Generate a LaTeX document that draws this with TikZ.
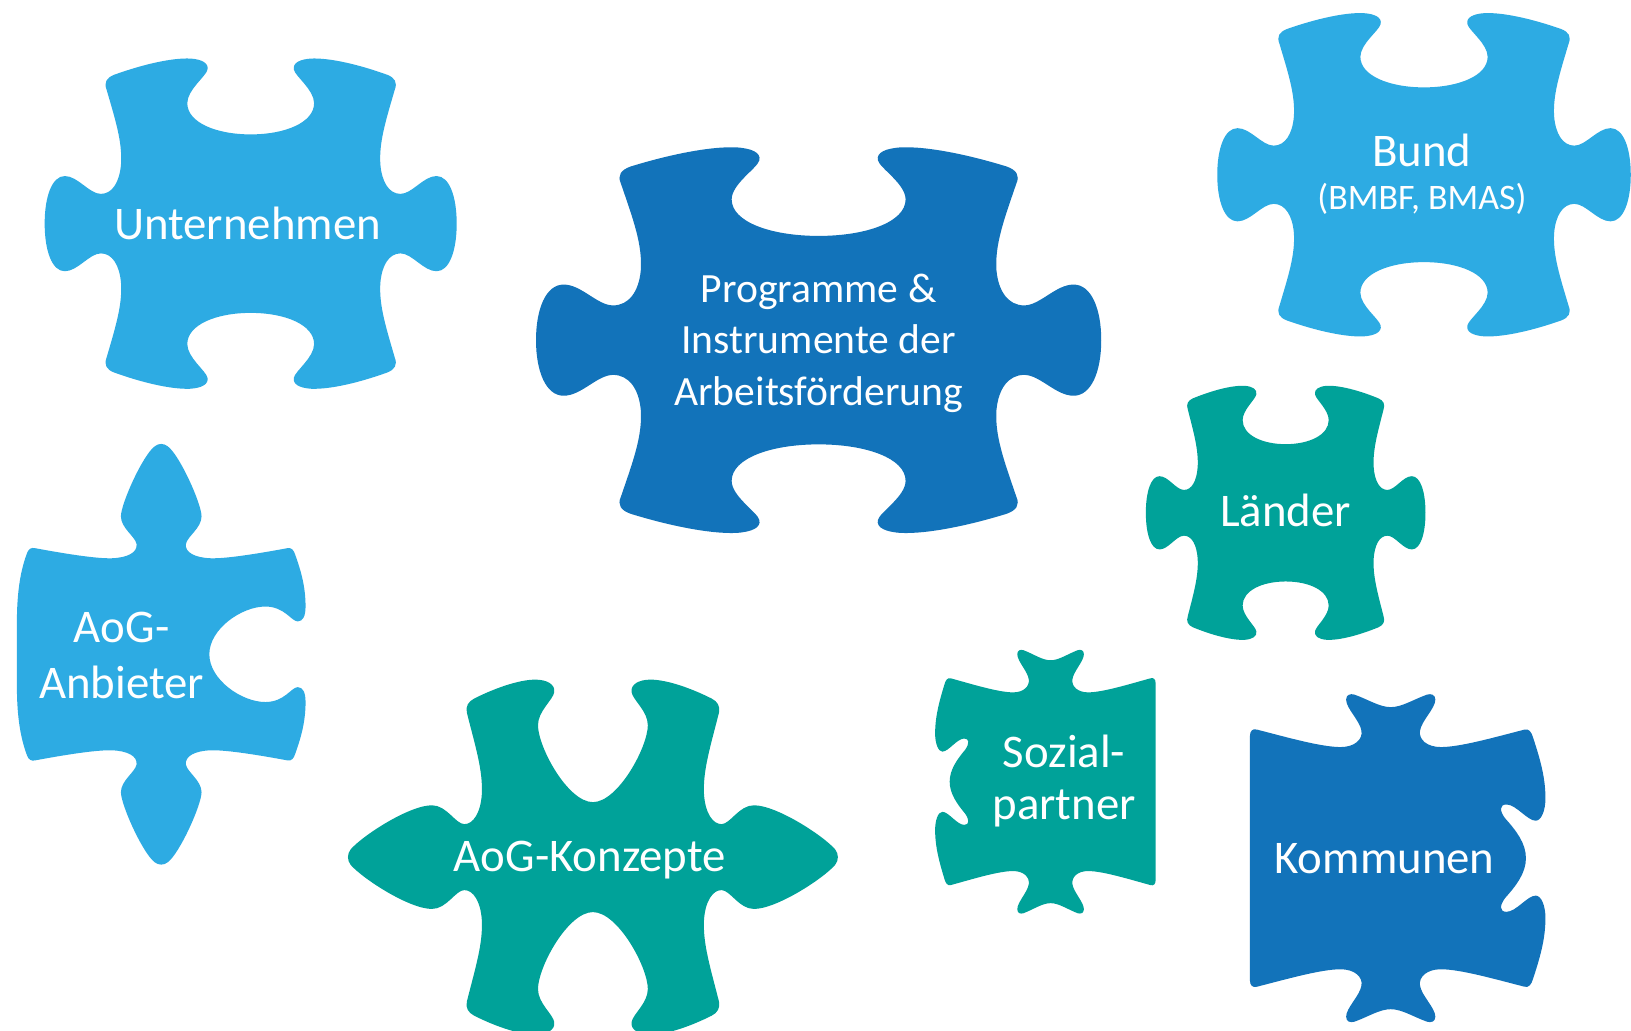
\documentclass[tikz,border=0pt]{standalone}
\usepackage{fontspec}
\setmainfont{Carlito}
\definecolor{lblue}{RGB}{45,171,227}
\definecolor{dblue}{RGB}{18,115,186}
\definecolor{teal2}{RGB}{0,162,153}
% Template A: holes top/bottom, round tabs left/right
\newcommand\pieceA[4]{\fill[#1, shift={(#2)}, xscale=#3, yscale=-#4]
(-0.95,1.0)
.. controls (-0.75,1.07) and (-0.55,1.115) .. (-0.42,1.11)
.. controls (-0.34,1.105) and (-0.29,1.08) .. (-0.30,1.035)
.. controls (-0.31,0.99) and (-0.44,0.90) .. (-0.44,0.81)
.. controls (-0.44,0.68) and (-0.24,0.60) .. (0,0.60)
.. controls (0.24,0.60) and (0.44,0.68) .. (0.44,0.81)
.. controls (0.44,0.90) and (0.31,0.99) .. (0.30,1.035)
.. controls (0.29,1.08) and (0.34,1.105) .. (0.42,1.11)
.. controls (0.55,1.115) and (0.75,1.07) .. (0.95,1.0)
.. controls (1.0,0.98) and (1.02,0.95) .. (1.0,0.90)
.. controls (0.94,0.70) and (0.89,0.55) .. (0.90,0.40)
.. controls (0.91,0.28) and (0.96,0.20) .. (1.04,0.20)
.. controls (1.12,0.20) and (1.20,0.32) .. (1.29,0.32)
.. controls (1.38,0.32) and (1.43,0.18) .. (1.43,0)
.. controls (1.43,-0.18) and (1.38,-0.32) .. (1.29,-0.32)
.. controls (1.20,-0.32) and (1.12,-0.20) .. (1.04,-0.20)
.. controls (0.96,-0.20) and (0.91,-0.28) .. (0.90,-0.40)
.. controls (0.89,-0.55) and (0.94,-0.70) .. (1.0,-0.90)
.. controls (1.02,-0.95) and (1.0,-0.98) .. (0.95,-1.0)
.. controls (0.75,-1.07) and (0.55,-1.115) .. (0.42,-1.11)
.. controls (0.34,-1.105) and (0.29,-1.08) .. (0.30,-1.035)
.. controls (0.31,-0.99) and (0.44,-0.90) .. (0.44,-0.81)
.. controls (0.44,-0.68) and (0.24,-0.60) .. (0,-0.60)
.. controls (-0.24,-0.60) and (-0.44,-0.68) .. (-0.44,-0.81)
.. controls (-0.44,-0.90) and (-0.31,-0.99) .. (-0.30,-1.035)
.. controls (-0.29,-1.08) and (-0.34,-1.105) .. (-0.42,-1.11)
.. controls (-0.55,-1.115) and (-0.75,-1.07) .. (-0.95,-1.0)
.. controls (-1.0,-0.98) and (-1.02,-0.95) .. (-1.0,-0.90)
.. controls (-0.94,-0.70) and (-0.89,-0.55) .. (-0.90,-0.40)
.. controls (-0.91,-0.28) and (-0.96,-0.20) .. (-1.04,-0.20)
.. controls (-1.12,-0.20) and (-1.20,-0.32) .. (-1.29,-0.32)
.. controls (-1.38,-0.32) and (-1.43,-0.18) .. (-1.43,0)
.. controls (-1.43,0.18) and (-1.38,0.32) .. (-1.29,0.32)
.. controls (-1.20,0.32) and (-1.12,0.20) .. (-1.04,0.20)
.. controls (-0.96,0.20) and (-0.91,0.28) .. (-0.90,0.40)
.. controls (-0.89,0.55) and (-0.94,0.70) .. (-1.0,0.90)
.. controls (-1.02,0.95) and (-1.0,0.98) .. (-0.95,1.0) -- cycle;}
% Template B: pointed tabs top/bottom, hole right, flat left
\newcommand\pieceB[4]{\fill[#1, shift={(#2)}, xscale=#3, yscale=-#4]
(-0.97,1.0)
.. controls (-0.75,0.95) and (-0.50,0.90) .. (-0.38,0.905)
.. controls (-0.26,0.91) and (-0.18,0.96) .. (-0.19,1.04)
.. controls (-0.20,1.11) and (-0.31,1.19) .. (-0.31,1.30)
.. controls (-0.31,1.42) and (-0.14,1.88) .. (-0.05,1.96)
.. controls (-0.02,1.99) and (0.02,1.99) .. (0.05,1.96)
.. controls (0.14,1.88) and (0.31,1.42) .. (0.31,1.30)
.. controls (0.31,1.19) and (0.20,1.11) .. (0.19,1.04)
.. controls (0.18,0.96) and (0.26,0.91) .. (0.38,0.905)
.. controls (0.50,0.90) and (0.75,0.95) .. (0.97,1.0)
.. controls (1.0,1.01) and (1.02,0.98) .. (1.03,0.94)
.. controls (1.07,0.80) and (1.11,0.65) .. (1.11,0.45)
.. controls (1.11,0.36) and (1.09,0.31) .. (1.05,0.31)
.. controls (1.0,0.31) and (0.95,0.45) .. (0.80,0.45)
.. controls (0.62,0.45) and (0.37,0.24) .. (0.37,0)
.. controls (0.37,-0.24) and (0.62,-0.45) .. (0.80,-0.45)
.. controls (0.95,-0.45) and (1.0,-0.31) .. (1.05,-0.31)
.. controls (1.09,-0.31) and (1.11,-0.36) .. (1.11,-0.45)
.. controls (1.11,-0.65) and (1.07,-0.80) .. (1.03,-0.94)
.. controls (1.02,-0.98) and (1.0,-1.01) .. (0.97,-1.0)
.. controls (0.75,-0.95) and (0.50,-0.90) .. (0.38,-0.905)
.. controls (0.26,-0.91) and (0.18,-0.96) .. (0.19,-1.04)
.. controls (0.20,-1.11) and (0.31,-1.19) .. (0.31,-1.30)
.. controls (0.31,-1.42) and (0.14,-1.88) .. (0.05,-1.96)
.. controls (0.02,-1.99) and (-0.02,-1.99) .. (-0.05,-1.96)
.. controls (-0.14,-1.88) and (-0.31,-1.42) .. (-0.31,-1.30)
.. controls (-0.31,-1.19) and (-0.20,-1.11) .. (-0.19,-1.04)
.. controls (-0.18,-0.96) and (-0.26,-0.91) .. (-0.38,-0.905)
.. controls (-0.50,-0.90) and (-0.75,-0.95) .. (-0.97,-1.0)
.. controls (-1.0,-1.01) and (-1.02,-0.99) .. (-1.03,-0.96)
.. controls (-1.08,-0.80) and (-1.11,-0.6) .. (-1.11,-0.3)
-- (-1.11,0.3)
.. controls (-1.11,0.6) and (-1.08,0.80) .. (-1.03,0.96)
.. controls (-1.02,0.99) and (-1.0,1.01) .. (-0.97,1.0) -- cycle;}
% Template C: V-shaped holes top/bottom, pointed tabs left/right
\newcommand\pieceC[4]{\fill[#1, shift={(#2)}, xscale=#3, yscale=-#4]
(-0.95,1.01)
.. controls (-0.8,1.07) and (-0.6,1.13) .. (-0.46,1.13)
.. controls (-0.37,1.13) and (-0.30,1.10) .. (-0.31,1.05)
.. controls (-0.32,1.00) and (-0.44,0.93) .. (-0.44,0.84)
.. controls (-0.44,0.70) and (-0.20,0.35) .. (0,0.35)
.. controls (0.20,0.35) and (0.44,0.70) .. (0.44,0.84)
.. controls (0.44,0.93) and (0.32,1.00) .. (0.31,1.05)
.. controls (0.30,1.10) and (0.37,1.13) .. (0.46,1.13)
.. controls (0.6,1.13) and (0.8,1.07) .. (0.95,1.01)
.. controls (1.0,0.99) and (1.02,0.96) .. (1.01,0.92)
.. controls (0.94,0.70) and (0.88,0.55) .. (0.89,0.40)
.. controls (0.90,0.28) and (0.96,0.21) .. (1.03,0.21)
.. controls (1.10,0.21) and (1.17,0.33) .. (1.29,0.33)
.. controls (1.47,0.33) and (1.84,0.14) .. (1.94,0.05)
.. controls (1.97,0.02) and (1.97,-0.02) .. (1.94,-0.05)
.. controls (1.84,-0.14) and (1.47,-0.33) .. (1.29,-0.33)
.. controls (1.17,-0.33) and (1.10,-0.21) .. (1.03,-0.21)
.. controls (0.96,-0.21) and (0.90,-0.28) .. (0.89,-0.40)
.. controls (0.88,-0.55) and (0.94,-0.70) .. (1.01,-0.92)
.. controls (1.02,-0.96) and (1.0,-0.99) .. (0.95,-1.01)
.. controls (0.8,-1.07) and (0.6,-1.13) .. (0.46,-1.13)
.. controls (0.37,-1.13) and (0.30,-1.10) .. (0.31,-1.05)
.. controls (0.32,-1.00) and (0.44,-0.93) .. (0.44,-0.84)
.. controls (0.44,-0.70) and (0.20,-0.35) .. (0,-0.35)
.. controls (-0.20,-0.35) and (-0.44,-0.70) .. (-0.44,-0.84)
.. controls (-0.44,-0.93) and (-0.32,-1.00) .. (-0.31,-1.05)
.. controls (-0.30,-1.10) and (-0.37,-1.13) .. (-0.46,-1.13)
.. controls (-0.6,-1.13) and (-0.8,-1.07) .. (-0.95,-1.01)
.. controls (-1.0,-0.99) and (-1.02,-0.96) .. (-1.01,-0.92)
.. controls (-0.94,-0.70) and (-0.88,-0.55) .. (-0.89,-0.40)
.. controls (-0.90,-0.28) and (-0.96,-0.21) .. (-1.03,-0.21)
.. controls (-1.10,-0.21) and (-1.17,-0.33) .. (-1.29,-0.33)
.. controls (-1.47,-0.33) and (-1.84,-0.14) .. (-1.94,-0.05)
.. controls (-1.97,-0.02) and (-1.97,0.02) .. (-1.94,0.05)
.. controls (-1.84,0.14) and (-1.47,0.33) .. (-1.29,0.33)
.. controls (-1.17,0.33) and (-1.10,0.21) .. (-1.03,0.21)
.. controls (-0.96,0.21) and (-0.90,0.28) .. (-0.89,0.40)
.. controls (-0.88,0.55) and (-0.94,0.70) .. (-1.01,0.92)
.. controls (-1.02,0.96) and (-1.0,0.99) .. (-0.95,1.01) -- cycle;}
% Template D: horned tabs top/bottom, double-lobed hole left, flat right
\newcommand\pieceD[4]{\fill[#1, shift={(#2)}, xscale=#3, yscale=-#4]
(-0.96,1.03)
.. controls (-0.75,0.97) and (-0.50,0.89) .. (-0.36,0.89)
.. controls (-0.26,0.89) and (-0.20,0.95) .. (-0.21,1.02)
.. controls (-0.22,1.10) and (-0.32,1.20) .. (-0.32,1.27)
.. controls (-0.32,1.31) and (-0.29,1.32) .. (-0.26,1.31)
.. controls (-0.16,1.27) and (-0.08,1.21) .. (0,1.21)
.. controls (0.08,1.21) and (0.16,1.27) .. (0.26,1.31)
.. controls (0.29,1.32) and (0.32,1.31) .. (0.32,1.27)
.. controls (0.32,1.20) and (0.22,1.10) .. (0.21,1.02)
.. controls (0.20,0.95) and (0.26,0.89) .. (0.36,0.89)
.. controls (0.50,0.89) and (0.75,0.97) .. (0.96,1.03)
.. controls (0.99,1.04) and (1.01,1.02) .. (1.01,0.98)
-- (1.01,-0.98)
.. controls (1.01,-1.02) and (0.99,-1.04) .. (0.96,-1.03)
.. controls (0.75,-0.97) and (0.50,-0.89) .. (0.36,-0.89)
.. controls (0.26,-0.89) and (0.20,-0.95) .. (0.21,-1.02)
.. controls (0.22,-1.10) and (0.32,-1.20) .. (0.32,-1.27)
.. controls (0.32,-1.31) and (0.29,-1.32) .. (0.26,-1.31)
.. controls (0.16,-1.27) and (0.08,-1.21) .. (0,-1.21)
.. controls (-0.08,-1.21) and (-0.16,-1.27) .. (-0.26,-1.31)
.. controls (-0.29,-1.32) and (-0.32,-1.31) .. (-0.32,-1.27)
.. controls (-0.32,-1.20) and (-0.22,-1.10) .. (-0.21,-1.02)
.. controls (-0.20,-0.95) and (-0.26,-0.89) .. (-0.36,-0.89)
.. controls (-0.50,-0.89) and (-0.75,-0.97) .. (-0.96,-1.03)
.. controls (-0.99,-1.04) and (-1.01,-1.01) .. (-1.02,-0.97)
.. controls (-1.07,-0.80) and (-1.11,-0.65) .. (-1.11,-0.48)
.. controls (-1.11,-0.38) and (-1.08,-0.30) .. (-1.04,-0.30)
.. controls (-0.98,-0.30) and (-0.90,-0.43) .. (-0.83,-0.43)
.. controls (-0.78,-0.43) and (-0.78,-0.38) .. (-0.82,-0.32)
.. controls (-0.90,-0.22) and (-0.97,-0.12) .. (-0.97,0)
.. controls (-0.97,0.12) and (-0.90,0.22) .. (-0.82,0.32)
.. controls (-0.78,0.38) and (-0.78,0.43) .. (-0.83,0.43)
.. controls (-0.90,0.43) and (-0.98,0.30) .. (-1.04,0.30)
.. controls (-1.08,0.30) and (-1.11,0.38) .. (-1.11,0.48)
.. controls (-1.11,0.65) and (-1.07,0.80) .. (-1.02,0.97)
.. controls (-1.01,1.01) and (-0.99,1.04) .. (-0.96,1.03) -- cycle;}
\begin{document}
\begin{tikzpicture}[x=1pt,y=-1pt,
  lbl/.style={text=white, inner sep=0pt, align=center, font=\fontsize{45}{54}\selectfont}]
\fill[white] (0,0) rectangle (1568,991);
\useasboundingbox (0,0) rectangle (1568,991);
\pieceA{lblue}{241,215}{138.5}{143}
\pieceA{dblue}{787,327}{190}{167}
\pieceA{lblue}{1369,168}{139}{140}
\pieceA{teal2}{1236,493}{94}{110}
\pieceB{lblue}{155,629}{125}{102}
\pieceC{teal2}{570,824}{120}{151}
\pieceD{teal2}{1010,751.5}{100}{96.5}
\pieceD{dblue}{1337,825}{-134}{120}
\node[lbl] (unt) at (238,215) {Unternehmen};
\node[lbl, font=\fontsize{40}{49.5}\selectfont] (prog) at (787,330) {Programme \&\\Instrumente der\\Arbeitsförderung};
\node[lbl] (bund) at (1367,145) {Bund};
\node[lbl, font=\fontsize{34.5}{40}\selectfont] (bundsub) at (1367,191) {(BMBF, BMAS)};
\node[lbl] (laender) at (1236,491) {Länder};
\node[lbl, font=\fontsize{45}{54}\selectfont] (anb) at (117,630) {AoG-\\Anbieter};
\node[lbl, anchor=base] (konz) at (567,838) {AoG-Konzepte};
\node[lbl, font=\fontsize{45}{50}\selectfont] (sozial) at (1023,751) {Sozial-\\partner};
\node[lbl] (komm) at (1331,825) {Kommunen};
\end{tikzpicture}
\end{document}
